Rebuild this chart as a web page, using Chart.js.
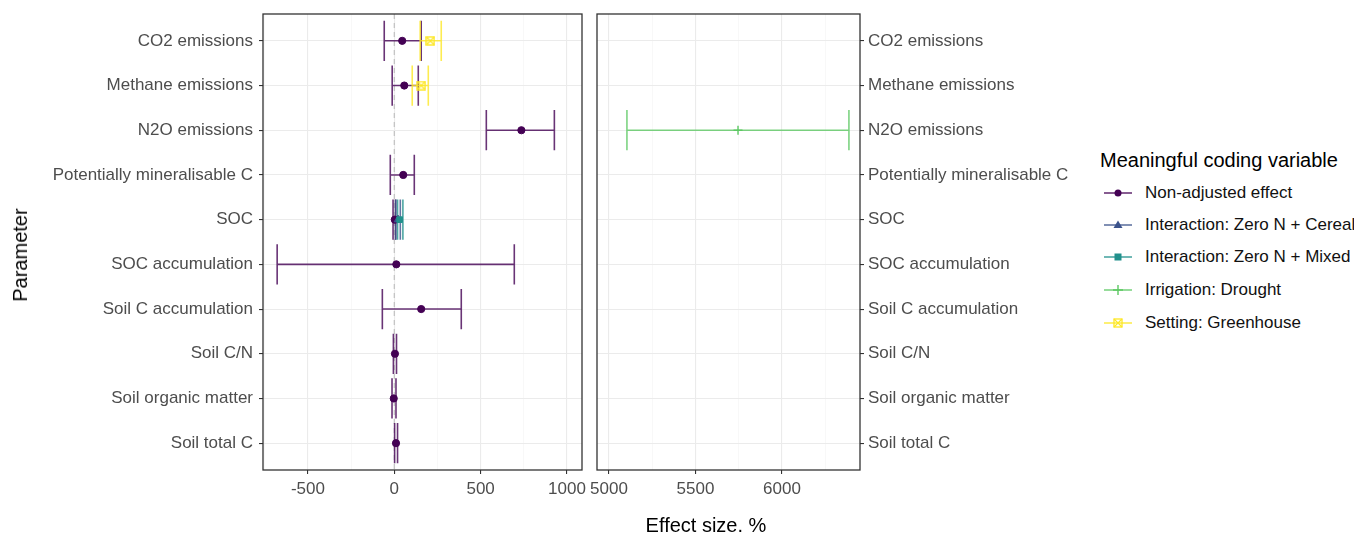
<!DOCTYPE html>
<html>
<head>
<meta charset="utf-8">
<script src="https://cdn.jsdelivr.net/npm/chart.js@4.4.1/dist/chart.umd.min.js"></script>
<style>
  body { margin: 0; width: 1354px; height: 534px; position: relative; background: #fff; overflow: hidden;
         font-family: "Liberation Sans", Arial, sans-serif; }
  canvas { position: absolute; top: 0; }
  #leftChart { left: 0; }
  #rightChart { left: 584px; }
  .txt { position: absolute; white-space: nowrap; color: #000; }
  #yTitle { left: 20px; top: 255px; font-size: 20px; line-height: 24px; transform: translate(-50%, -50%) rotate(-90deg); }
  #xTitle { left: 706px; top: 513px; font-size: 20px; line-height: 24px; transform: translateX(-50%); }
  #legTitle { left: 1100px; top: 148px; font-size: 20px; line-height: 24px; }
  .legItem { position: absolute; left: 1103px; height: 20px; }
  .legItem svg { position: absolute; left: 0; top: 2px; }
  .legItem span { position: absolute; left: 42px; top: 0; font-size: 17px; line-height: 20px; white-space: nowrap; color: #111; }
</style>
</head>
<body>
<canvas id="leftChart" width="590" height="534"></canvas>
<canvas id="rightChart" width="510" height="534"></canvas>
<div class="txt" id="yTitle">Parameter</div>
<div class="txt" id="xTitle">Effect size. %</div>
<div class="txt" id="legTitle">Meaningful coding variable</div>
<div id="legend"></div>
<script>
// parameters, top to bottom
const categories = ['CO2 emissions', 'Methane emissions', 'N2O emissions', 'Potentially mineralisable C', 'SOC',
  'SOC accumulation', 'Soil C accumulation', 'Soil C/N', 'Soil organic matter', 'Soil total C'];

const seriesNames = ['Non-adjusted effect', 'Interaction: Zero N + Cereal', 'Interaction: Zero N + Mixed',
  'Irrigation: Drought', 'Setting: Greenhouse'];
const seriesColors = ['#440154', '#3B528B', '#21908C', '#5DC863', '#FDE725'];

// non-adjusted effect (all parameters)
const nonAdjEst  = [46, 58, 736, 52, 3, 12, 156, 4, -3, 10];
const nonAdjLow  = [-58, -12, 533, -23, -7, -678, -69, -5, -13, 2];
const nonAdjHigh = [156, 139, 927, 116, 8, 695, 388, 13, 10, 19];

// interaction: zero N + cereal
const cerealCats = ['SOC'];
const cerealEst  = [22];
const cerealLow  = [8];
const cerealHigh = [35];

// interaction: zero N + mixed
const mixedCats = ['SOC'];
const mixedEst  = [31];
const mixedLow  = [19];
const mixedHigh = [50];

// irrigation: drought (right panel)
const droughtCats = ['N2O emissions'];
const droughtEst  = [5746];
const droughtLow  = [5104];
const droughtHigh = [6387];

// setting: greenhouse
const greenhouseCats = ['CO2 emissions', 'Methane emissions'];
const greenhouseEst  = [209, 156];
const greenhouseLow  = [150, 104];
const greenhouseHigh = [272, 197];

// x axis ticks per panel
const leftGrid = [-750, -500, -250, 0, 250, 500, 750, 1000];
const leftMajor = [-500, 0, 500, 1000];
const rightGrid = [5000, 5250, 5500, 5750, 6000, 6250];
const rightMajor = [5000, 5500, 6000];

Chart.defaults.font.family = "'Liberation Sans', Arial, sans-serif";

function rows(cats, est, low, high) {
  return cats.map((c, i) => ({ x: est[i], y: categories.indexOf(c) + 1, lo: low[i], hi: high[i] }));
}

function fade(hex, a) {
  const n = parseInt(hex.slice(1), 16);
  return `rgba(${n >> 16},${(n >> 8) & 255},${n & 255},${a})`;
}

// ggplot shape 7: square with a cross
function boxCross(color, size) {
  const c = document.createElement('canvas');
  c.width = size; c.height = size;
  const g = c.getContext('2d');
  g.strokeStyle = color; g.lineWidth = 1.4;
  g.strokeRect(1, 1, size - 2, size - 2);
  g.beginPath();
  g.moveTo(1, 1); g.lineTo(size - 1, size - 1);
  g.moveTo(size - 1, 1); g.lineTo(1, size - 1);
  g.stroke();
  return c;
}

const errorBars = {
  id: 'errorBars',
  beforeDatasetsDraw(chart, args, opts) {
    const { ctx, chartArea: a, scales: { x, y } } = chart;
    ctx.save();
    ctx.beginPath();
    ctx.rect(a.left, a.top, a.width, a.height);
    ctx.clip();
    if (opts.refX !== undefined) {
      const px = x.getPixelForValue(opts.refX);
      ctx.strokeStyle = '#bdbdbd';
      ctx.lineWidth = 1.1;
      ctx.setLineDash([5, 4]);
      ctx.beginPath();
      ctx.moveTo(px, a.top); ctx.lineTo(px, a.bottom);
      ctx.stroke();
      ctx.setLineDash([]);
    }
    // draw in legend order so later series sit on top
    chart.data.datasets.forEach(ds => {
      ctx.strokeStyle = fade(ds.borderColor, 0.8);
      ctx.lineWidth = 1.6;
      ds.data.forEach(p => {
        const yc = y.getPixelForValue(p.y);
        const y0 = y.getPixelForValue(p.y - 0.45);
        const y1 = y.getPixelForValue(p.y + 0.45);
        const xl = x.getPixelForValue(p.lo);
        const xh = x.getPixelForValue(p.hi);
        ctx.beginPath();
        ctx.moveTo(xl, yc); ctx.lineTo(xh, yc);
        ctx.moveTo(xl, y0); ctx.lineTo(xl, y1);
        ctx.moveTo(xh, y0); ctx.lineTo(xh, y1);
        ctx.stroke();
      });
    });
    ctx.restore();
  },
  afterDraw(chart) {
    const { ctx, chartArea: a } = chart;
    ctx.save();
    ctx.strokeStyle = '#333333';
    ctx.lineWidth = 1.3;
    ctx.strokeRect(a.left, a.top, a.width, a.height);
    ctx.restore();
  }
};

function xAxis(min, max, grid, major, height) {
  return {
    type: 'linear', min: min, max: max,
    afterBuildTicks: s => { s.ticks = grid.map(v => ({ value: v })); },
    afterFit: s => { s.height = height; s.paddingLeft = 0; s.paddingRight = 0; },
    ticks: {
      callback: v => major.includes(v) ? String(v) : '',
      color: '#4d4d4d', font: { size: 17 }, padding: 5, maxRotation: 0, autoSkip: false
    },
    grid: {
      color: c => major.includes(c.tick.value) ? '#ebebeb' : '#f4f4f4',
      lineWidth: c => major.includes(c.tick.value) ? 1.1 : 0.6,
      tickColor: c => major.includes(c.tick.value) ? '#333333' : 'rgba(0,0,0,0)',
      tickLength: 4
    },
    border: { display: false }
  };
}

function yAxis(position, width, pad) {
  return {
    type: 'linear', position: position, reverse: true, min: 0.4, max: 10.6,
    afterBuildTicks: s => { s.ticks = categories.map((c, i) => ({ value: i + 1 })); },
    afterFit: s => { s.width = width; s.paddingTop = 0; s.paddingBottom = 0; },
    ticks: { callback: v => categories[v - 1], color: '#4d4d4d', font: { size: 17 }, padding: pad, autoSkip: false },
    grid: { color: '#ebebeb', lineWidth: 1.1, tickColor: '#333333', tickLength: 4 },
    border: { display: false }
  };
}

function series(idx, data, style, radius, extra) {
  return Object.assign({
    label: seriesNames[idx],
    data: data,
    borderColor: seriesColors[idx],
    backgroundColor: seriesColors[idx],
    pointStyle: style,
    pointRadius: radius,
    pointBorderWidth: 1,
    order: seriesNames.length - idx
  }, extra || {});
}

const baseOptions = {
  responsive: false,
  animation: false,
  events: []
};

new Chart(document.getElementById('leftChart'), {
  type: 'scatter',
  data: {
    datasets: [
      series(0, rows(categories, nonAdjEst, nonAdjLow, nonAdjHigh), 'circle', 3.6),
      series(1, rows(cerealCats, cerealEst, cerealLow, cerealHigh), 'triangle', 4.5),
      series(2, rows(mixedCats, mixedEst, mixedLow, mixedHigh), 'rect', 4),
      series(4, rows(greenhouseCats, greenhouseEst, greenhouseLow, greenhouseHigh), boxCross(seriesColors[4], 10), 5)
    ]
  },
  options: Object.assign({}, baseOptions, {
    layout: { padding: { left: 0, top: 14, right: 8, bottom: 0 } },
    scales: { x: xAxis(-760, 1087, leftGrid, leftMajor, 64), y: yAxis('left', 263, 6) },
    plugins: { legend: { display: false }, tooltip: { enabled: false }, errorBars: { refX: 0 } }
  }),
  plugins: [errorBars]
});

new Chart(document.getElementById('rightChart'), {
  type: 'scatter',
  data: {
    datasets: [
      series(3, rows(droughtCats, droughtEst, droughtLow, droughtHigh), 'cross', 4.5, { pointBorderWidth: 1.4 })
    ]
  },
  options: Object.assign({}, baseOptions, {
    layout: { padding: { left: 13, top: 14, right: 0, bottom: 0 } },
    scales: { x: xAxis(4931, 6451, rightGrid, rightMajor, 64), y: yAxis('right', 234, 4) },
    plugins: { legend: { display: false }, tooltip: { enabled: false }, errorBars: {} }
  }),
  plugins: [errorBars]
});

// legend keys (line + marker), one row per series
const markerSvg = [
  c => `<circle cx="15" cy="8" r="3.5" fill="${c}"/>`,
  c => `<polygon points="15,3.5 19.5,11 10.5,11" fill="${c}"/>`,
  c => `<rect x="11.5" y="4.5" width="7" height="7" fill="${c}"/>`,
  c => `<path d="M10 8H20M15 3V13" stroke="${c}" stroke-width="1.4"/>`,
  c => `<rect x="11" y="4" width="8" height="8" fill="none" stroke="${c}" stroke-width="1.3"/><path d="M11 4L19 12M19 4L11 12" stroke="${c}" stroke-width="1.1"/>`
];
const legendRowsY = [193, 225, 257, 290, 323];
const legend = document.getElementById('legend');
seriesNames.forEach((name, i) => {
  const c = seriesColors[i];
  const item = document.createElement('div');
  item.className = 'legItem';
  item.style.top = (legendRowsY[i] - 10) + 'px';
  item.innerHTML = `<svg width="30" height="16"><line x1="1" y1="8" x2="29" y2="8" stroke="${fade(c, 0.8)}" stroke-width="1.6"/>${markerSvg[i](c)}</svg><span>${name}</span>`;
  legend.appendChild(item);
});
</script>
</body>
</html>
